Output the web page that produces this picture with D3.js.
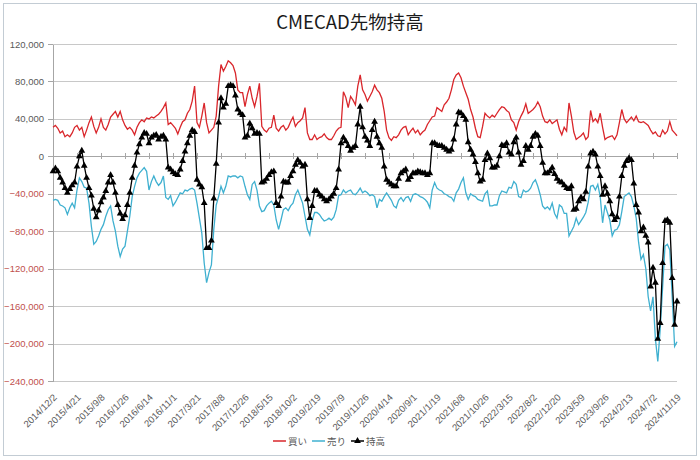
<html>
<head>
<meta charset="utf-8">
<style>
  body { margin: 0; background: #fff; }
  svg { display: block; }
  .title { font-family: "Noto Sans CJK JP", sans-serif; font-size: 18.5px; fill: #1a1a1a; }
  .axis text { font-family: "Liberation Sans", Arial, sans-serif; font-size: 9.5px; fill: #595959; }
  .axis path, .axis line { stroke: #a6a6a6; shape-rendering: crispEdges; }
  .grid line { stroke: #c8c8c8; shape-rendering: crispEdges; }
  .legend text { font-family: "Noto Sans CJK JP", sans-serif; font-size: 9.5px; fill: #595959; }
</style>
<script src="https://d3js.org/d3.v7.min.js"></script>
</head>
<body>
<svg id="chart"></svg>
<script>
var width = 700,
    height = 460;

// weekly report, sampled every 2 weeks from the first date
var startDate = "2014/12/2";

var tickLabels = ["2014/12/2", "2015/4/21", "2015/9/8", "2016/1/26", "2016/6/14", "2016/11/1",
  "2017/3/21", "2017/8/8", "2017/12/26", "2018/5/15", "2018/10/2", "2019/2/19", "2019/7/9",
  "2019/11/26", "2020/4/14", "2020/9/1", "2021/1/19", "2021/6/8", "2021/10/26", "2022/3/15",
  "2022/8/2", "2022/12/20", "2023/5/9", "2023/9/26", "2024/2/13", "2024/7/2", "2024/11/19"];

var yTicks = [-240, -200, -160, -120, -80, -40, 0, 40, 80, 120];

// 買い (thousand contracts)
var buy = [31,33,30,25,27,21,23,21,25,31, 33,28,31,21,28,36,42,32,25,31,
  40,31,28,34,42,45,48,42,48,39, 33,29,31,28,23,31,36,39,37,41,
  40,42,41,43,45,48,52,57,34,36, 33,30,24,31,37,39,46,50,59,75,
  36,31,43,57,36,25,28,31,43,75, 98,91,96,102,100,97,89,71,68,68,
  53,66,75,62,53,64,78,32,28,26, 30,31,44,30,27,31,33,28,31,37,
  42,32,36,38,41,52,25,18,18,23, 18,20,21,24,20,18,18,22,27,30,
  31,69,63,52,64,60,55,75,87,71, 66,59,64,69,76,71,68,62,48,28,
  20,17,21,20,23,28,31,32,23,27, 30,25,28,23,26,28,34,38,42,43,
  52,50,48,55,58,62,71,82,87,89, 84,75,68,61,50,42,30,21,20,32,
  46,43,41,44,42,46,50,53,52,49, 47,39,36,28,37,43,48,56,46,48,
  50,53,58,53,43,37,36,39,35,37, 39,29,23,31,27,57,43,26,18,20,
  22,25,18,21,49,37,40,36,46,31, 18,20,21,22,18,23,36,50,40,36,
  39,42,38,43,37,36,37,35,33,28, 24,26,22,21,28,24,27,37,28,25, 22];

// 売り (thousand contracts, shown negative)
var sell = [-47,-46,-47,-52,-53,-55,-62,-55,-50,-55, -36,-23,-27,-33,-34,-50,-75,-94,-91,-85,
  -78,-73,-64,-57,-53,-69,-80,-96,-107,-99, -96,-80,-64,-43,-32,-23,-18,-15,-12,-16,
  -36,-27,-21,-27,-31,-28,-21,-44,-46,-42, -53,-49,-44,-39,-40,-36,-37,-35,-34,-36,
  -50,-66,-82,-114,-135,-124,-116,-78,-52,-43, -32,-39,-32,-21,-22,-21,-21,-23,-21,-22,
  -32,-41,-46,-30,-27,-36,-53,-59,-58,-53, -50,-48,-52,-68,-78,-68,-57,-55,-58,-53,
  -50,-41,-36,-43,-50,-64,-78,-84,-69,-60, -60,-62,-66,-69,-68,-66,-68,-65,-57,-42,
  -41,-36,-39,-37,-36,-40,-41,-38,-34,-39, -37,-39,-42,-41,-43,-55,-46,-48,-43,-39,
  -43,-47,-53,-55,-47,-44,-48,-44,-43,-48, -41,-40,-41,-43,-44,-46,-49,-55,-36,-28,
  -34,-36,-37,-40,-41,-43,-44,-48,-39,-35, -28,-23,-39,-46,-40,-42,-43,-46,-47,-48,
  -40,-37,-53,-53,-52,-52,-42,-37,-38,-39, -33,-34,-27,-30,-43,-44,-36,-38,-37,-34,
  -28,-25,-32,-41,-53,-56,-54,-57,-50,-61, -66,-52,-54,-61,-61,-85,-80,-75,-66,-73,
  -69,-65,-60,-49,-32,-31,-36,-30,-43,-71, -52,-60,-68,-85,-79,-78,-73,-59,-43,-41,
  -39,-43,-53,-66,-92,-110,-105,-120,-150,-165, -150,-195,-219,-185,-140,-96,-94,-100,-150,-203, -198];

// 持高 (thousand contracts)
var net = [-16,-13,-16,-23,-28,-34,-39,-35,-31,-28, -11,0,6,-10,-23,-34,-42,-56,-65,-58,
  -49,-44,-37,-28,-20,-28,-39,-52,-61,-67, -63,-52,-39,-23,-10,4,13,20,25,24,
  14,20,22,23,18,21,22,18,-12,-14, -17,-19,-20,-14,-5,5,14,22,28,26,
  -25,-30,-33,-50,-98,-98,-90,-45,-8,36, 62,52,56,75,76,75,65,50,46,44,
  20,22,35,30,24,25,24,-28,-27,-24, -20,-17,-16,-50,-53,-43,-27,-28,-28,-21,
  -16,-9,-4,-7,-11,-9,-46,-66,-53,-37, -37,-41,-43,-46,-48,-46,-43,-40,-34,-14,
  14,20,16,11,6,9,11,34,53,31, 21,17,11,28,37,21,14,9,-11,-25,
  -28,-30,-32,-32,-24,-18,-16,-14,-25,-22, -18,-18,-16,-17,-18,-18,-20,-18,14,14,
  12,11,11,9,7,5,7,18,34,47, 46,43,39,15,7,2,-6,-18,-27,-25,
  -4,3,-2,-12,-12,-10,0,12,11,14, 4,2,15,20,4,-9,-5,11,7,11,
  21,24,22,11,-7,-18,-18,-16,-12,-19, -24,-27,-28,-31,-34,-35,-32,-57,-56,-48,
  -44,-46,-38,-11,3,5,2,-11,-21,-41, -32,-40,-48,-62,-68,-65,-43,-21,-10,-5,
  -2,-4,-29,-52,-60,-80,-76,-85,-92,-139, -119,-135,-195,-178,-114,-69,-68,-71,-130,-180, -155];

var legendItems = [
  {name: "買い", color: "#d9262b", marker: false},
  {name: "売り", color: "#3fb0d0", marker: false},
  {name: "持高", color: "#000000", marker: true}
];

var parseDate = d3.timeParse("%Y/%m/%d"),
    fmtDate = d3.timeFormat("%Y/%-m/%-d");
var start = parseDate(startDate);
var categories = buy.map(function(d, i) { return fmtDate(d3.timeDay.offset(start, 14 * i)); });

var svg = d3.select("#chart")
    .attr("width", width)
    .attr("height", height);

svg.append("rect")
    .attr("x", 3.5).attr("y", 3.5)
    .attr("width", width - 7).attr("height", height - 8)
    .attr("fill", "#fff")
    .attr("stroke", "#c3ccd4");

svg.append("text")
    .attr("class", "title")
    .attr("x", 350)
    .attr("y", 29)
    .attr("text-anchor", "middle")
    .text("CMECAD先物持高");

var x = d3.scalePoint()
    .domain(categories)
    .range([53, 677]);

var y = d3.scaleLinear()
    .domain([-240, 120])
    .range([381, 44]);

// horizontal gridlines
svg.append("g")
    .attr("class", "grid")
    .selectAll("line")
    .data(yTicks)
    .join("line")
      .attr("x1", 53)
      .attr("x2", 677)
      .attr("y1", function(d) { return Math.round(y(d)) + 0.5; })
      .attr("y2", function(d) { return Math.round(y(d)) + 0.5; });

// value axis
var yAxis = svg.append("g")
    .attr("class", "axis")
    .attr("transform", "translate(53,0)")
    .call(d3.axisLeft(y)
      .tickValues(yTicks)
      .tickSize(5)
      .tickSizeOuter(0)
      .tickPadding(4)
      .tickFormat(function(d) { return d3.format(",")(d * 1000); }));
yAxis.selectAll("text")
    .style("fill", function(d) { return d < 0 ? "#c0504d" : "#595959"; });

// category axis crossing at zero
var xAxis = svg.append("g")
    .attr("class", "axis")
    .attr("transform", "translate(0," + y(0) + ")")
    .call(d3.axisBottom(x)
      .tickValues(tickLabels)
      .tickSize(3)
      .tickSizeOuter(0)
      .tickFormat(""));
xAxis.selectAll(".tick line").attr("y1", -3);

// labels at the bottom of the plot
var xLabels = svg.append("g")
    .attr("class", "axis")
    .attr("transform", "translate(0,381)")
    .call(d3.axisBottom(x)
      .tickValues(tickLabels)
      .tickSize(0));
xLabels.select(".domain").remove();
xLabels.selectAll("text")
    .attr("y", 0)
    .attr("dy", 0)
    .attr("transform", "translate(4,17) rotate(-45)")
    .style("text-anchor", "end");

function lineFor(values) {
  return d3.line()
    .x(function(d, i) { return x(categories[i]); })
    .y(function(d) { return y(d); })(values);
}

svg.append("path")
    .attr("d", lineFor(buy))
    .attr("fill", "none")
    .attr("stroke", legendItems[0].color)
    .attr("stroke-width", 1.3);

svg.append("path")
    .attr("d", lineFor(sell))
    .attr("fill", "none")
    .attr("stroke", legendItems[1].color)
    .attr("stroke-width", 1.3);

svg.append("path")
    .attr("d", lineFor(net))
    .attr("fill", "none")
    .attr("stroke", "#000")
    .attr("stroke-width", 1.3);

var triangle = d3.symbol().type(d3.symbolTriangle).size(20);

svg.append("g")
    .selectAll("path")
    .data(net)
    .join("path")
      .attr("d", triangle)
      .attr("fill", "#000")
      .attr("transform", function(d, i) {
        return "translate(" + x(categories[i]) + "," + y(d) + ")";
      });

// legend, items laid out one after another and centred under the plot
var legend = svg.append("g")
    .attr("class", "legend");

var item = legend.selectAll("g")
    .data(legendItems)
    .join("g");

item.append("line")
    .attr("x1", 0).attr("x2", 13)
    .attr("y1", 0).attr("y2", 0)
    .attr("stroke", function(d) { return d.color; })
    .attr("stroke-width", 1.5);

item.filter(function(d) { return d.marker; })
    .append("path")
      .attr("d", triangle)
      .attr("transform", "translate(6.5,0)")
      .attr("fill", "#000");

item.append("text")
    .attr("x", 15)
    .attr("y", 3.5)
    .text(function(d) { return d.name; });

var offsets = [], total = 0;
item.each(function() {
  offsets.push(total);
  total += 15 + d3.select(this).select("text").node().getComputedTextLength() + 5;
});
total -= 5;
item.attr("transform", function(d, i) { return "translate(" + offsets[i] + ",0)"; });
legend.attr("transform", "translate(" + (329 - total / 2) + ",441)");
</script>
</body>
</html>
